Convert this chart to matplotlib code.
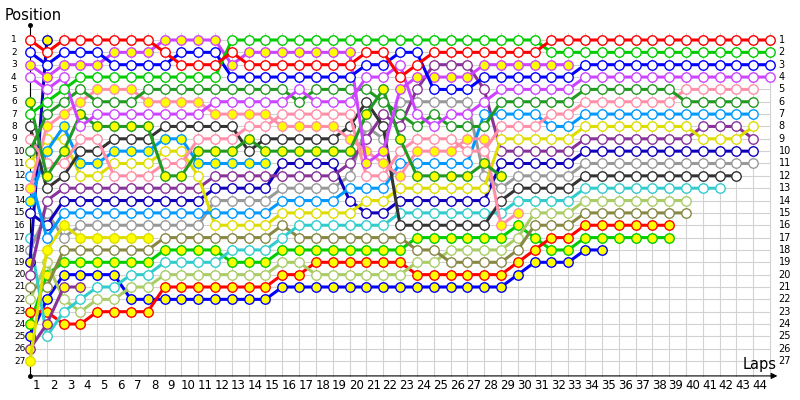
import matplotlib
matplotlib.use("Agg")
import matplotlib.pyplot as plt

# positions per lap (index 0 = grid), one list per driver
red_w = [1,2,1,1,1,1,1,1,2,3, 3,3,2,3,3,3,3,3,3,3, 2,2,4,3,2,2,2,2,2,2, 2,1,1,1,1,1,1,1,1,1, 1,1,1,1,1]
green_w = [7,6,5,4,4,4,4,4,4,4, 4,4,1,1,1,1,1,1,1,1, 1,1,1,1,1,1,1,1,1,1, 1,2,2,2,2,2,2,2,2,2, 2,2,2,2,2]
blue_w = [2,3,2,2,2,3,3,3,3,2, 2,2,4,4,4,4,4,4,4,4, 3,3,2,2,5,5,5,4,4,4, 4,4,4,3,3,3,3,3,3,3, 3,3,3,3,3]
violet_w = [4,5,4,8,7,7,7,7,7,7, 7,6,6,6,6,6,5,6,6,6, 4,4,3,7,8,7,7,6,5,5, 5,5,5,4,4,4,4,4,4,4, 4,4,4,4,4]
violet_y = [3,4,3,3,3,2,2,2,1,1, 1,1,3,2,2,2,2,2,2,2, 11,10,5,4,4,4,4,3,3,3, 3,3,3]
dkgreen_w = [10,7,6,5,6,6,6,5,5,5, 5,5,5,5,5,5,6,5,5,5, 5,6,7,8,7,8,8,8,6,6, 6,6,6,5,5,5,5,5,5,6, 6,6,6,6]
dkgreen_y = [6,12,10,7,8,8,8,8,12,12, 10,10,10,9,10,10,10,10,10,10, 7,5,9,12,12,12,12,11,12]
pink_w = [9,11,11,9,9,12,12,12,11,11, 9,9,9,8,8,7,7,7,7,7, 12,12,10,9,9,9,10,10,8,8, 8,7,7,6,6,6,6,6,6,5, 5,5,5,5]
pink_y = [13,8,7,6,5,5,5,6,6,6, 6,7,7,7,7,8,8,8,8,9, 10,11,12,10,10,10,9,9,16,15]
black_w = [8,13,12,10,10,9,9,9,8,8, 8,8,8,10,9,9,9,9,9,8, 6,8,16,16,16,16,16,16,14,13, 13,13,13,12,12,12,12,12,12,12, 12,12,12]
ltblue_w = [12,17,15,15,15,15,15,15,15,15, 15,15,15,15,15,14,14,14,14,13, 13,13,11,11,11,11,11,7,7,7, 7,8,8,7,7,7,7,7,7,7, 7,7,7,7]
ltblue_y = [14,10,8,11,11,10,10,10,9,9, 11,11,11,11,11]
yellow_w = [11,9,9,12,12,11,11,11,10,10, 12,16,16,16,16,15,15,15,15,15, 14,14,13,13,13,13,13,13,9,9, 9,9,9,8,8,8,8,8,8,8, 9,9,9,8]
yellow_y = [27,18,16,17,17,17,17,17]
purple_w = [20,14,13,13,13,13,13,13,13,13, 13,12,12,12,12,12,12,12,12,11, 9,7,8,5,3,3,3,5,10,10, 10,10,10,9,9,9,9,9,9,9, 8,8,8,9]
purple_y = [26,24,21,21]
navy_w = [15,16,14,14,14,14,14,14,14,14, 14,13,13,13,13,11,11,11,11,14, 15,15,14,14,14,14,14,14,11,11, 11,11,11,10,10,10,10,10,10,10, 10,10,10,10]
navy_y = [19,1]
gray_w = [18,15,17,16,16,16,16,16,16,16, 16,14,14,14,14,13,13,13,13,12, 8,9,6,6,6,6,6,12,13,12, 12,12,12,11,11,11,11,11,11,11, 11,11,11,11]
cyan_w = [17,25,23,22,21,21,20,20,19,19, 19,19,18,18,18,17,16,16,16,16, 16,16,15,15,15,15,15,15,15,14, 14,14,14,13,13,13,13,13,13,13, 13,13]
olive_w = [21,21,18,18,18,18,18,18,17,17, 17,17,17,17,17,16,17,17,17,17, 17,17,17,18,18,19,19,19,19,18, 16,16,16,15,15,15,15,15,15,15]
ltolive_w = [22,19,22,23,22,22,21,21,20,20, 20,20,20,20,20,19,19,20,20,20, 20,20,20,19,19,18,18,18,18,17, 15,15,15,14,14,14,14,14,14,14]
red_y = [23,23,24,24,23,23,23,23,21,21, 21,21,21,21,21,20,20,19,19,19, 19,19,19,20,20,20,20,20,20,19, 18,17,17,16,16,16,16,16,16]
green_y = [24,20,19,19,19,19,19,19,18,18, 18,18,19,19,19,18,18,18,18,18, 18,18,18,17,17,17,17,17,17,16, 17,18,18,17,17,17,17,17,17]
blue_y = [25,22,20,20,20,20,22,22,22,22, 22,22,22,22,22,21,21,21,21,21, 21,21,21,21,21,21,21,21,21,20, 19,19,19,18,18]

YEL = "#ffff00"
drivers = [
    (blue_y, "#0000ff", YEL), (green_y, "#00cc00", YEL), (red_y, "#ff0000", YEL),
    (ltolive_w, "#aacc66", "white"), (olive_w, "#888844", "white"),
    (cyan_w, "#33cccc", "white"), (gray_w, "#999999", "white"),
    (navy_y, "#1100bb", YEL), (navy_w, "#1100bb", "white"),
    (purple_y, "#883399", YEL), (purple_w, "#883399", "white"),
    (yellow_y, "#dddd00", YEL), (yellow_w, "#dddd00", "white"),
    (ltblue_y, "#0099ff", YEL), (ltblue_w, "#0099ff", "white"),
    (black_w, "#333333", "white"),
    (pink_y, "#ff8fa8", YEL), (pink_w, "#ff8fa8", "white"),
    (dkgreen_y, "#229922", YEL), (dkgreen_w, "#229922", "white"),
    (violet_y, "#cc44ff", YEL), (violet_w, "#cc44ff", "white"),
    (blue_w, "#0000ff", "white"), (green_w, "#00cc00", "white"),
    (red_w, "#ff0000", "white"),
]

n_laps = 44
n_pos = 27

fig = plt.figure(figsize=(8, 4), dpi=100)
ax = fig.add_axes([0, 0, 1, 1])
ax.set_xlim(-30 / 16.82, 770 / 16.82)
ax.set_ylim(1 + 360 / 12.35, 1 - 40 / 12.35)
ax.axis("off")

# grid
for lap in range(n_laps + 1):
    ax.plot([lap, lap], [0.45, 28.2], color="#d2d2d2", lw=0.8, zorder=0)
for p in range(1, n_pos + 1):
    ax.plot([0, n_laps], [p, p], color="#d2d2d2", lw=0.8, zorder=0)

# axes lines
ax.plot([0, 0], [28.2, -0.2], color="black", lw=0.8, zorder=1)
ax.plot([0], [-0.2], "o", color="black", ms=2.5)
ax.plot([0], [28.2], "o", color="black", ms=2.5)
ax.annotate("", xy=(44.6, 28.2), xytext=(0, 28.2),
            arrowprops=dict(arrowstyle="-|>", color="black", lw=0.8,
                            mutation_scale=9))

# driver lines
for i, (pos, col, fill) in enumerate(drivers):
    laps = list(range(len(pos)))
    ax.plot(laps, pos, color=col, lw=2.2, zorder=2 + i * 0.01,
            marker="o", ms=6.8, mfc=fill, mec=col, mew=1.0,
            solid_capstyle="round")

# labels
for p in range(1, n_pos + 1):
    ax.text(0.82 - 30 / 16.82 if p < 10 else 1.2 - 30 / 16.82, p, str(p),
            ha="center", va="center", fontsize=6.5, family="DejaVu Sans")
    ax.text(44.5, p, str(p), ha="left", va="center", fontsize=7,
            family="DejaVu Sans")
for lap in range(1, n_laps + 1):
    ax.text(lap - 0.6, 29.0, str(lap), ha="center", va="center",
            fontsize=8.5, family="DejaVu Sans")

ax.text(5 / 16.82 - 30 / 16.82, 1 - 25 / 12.35, "Position", ha="left",
        va="center", fontsize=10.5, family="DejaVu Sans")
ax.text(43.4, 27.25, "Laps", ha="center", va="center", fontsize=10.5,
        family="DejaVu Sans")

fig.savefig("out.png", dpi=100)
